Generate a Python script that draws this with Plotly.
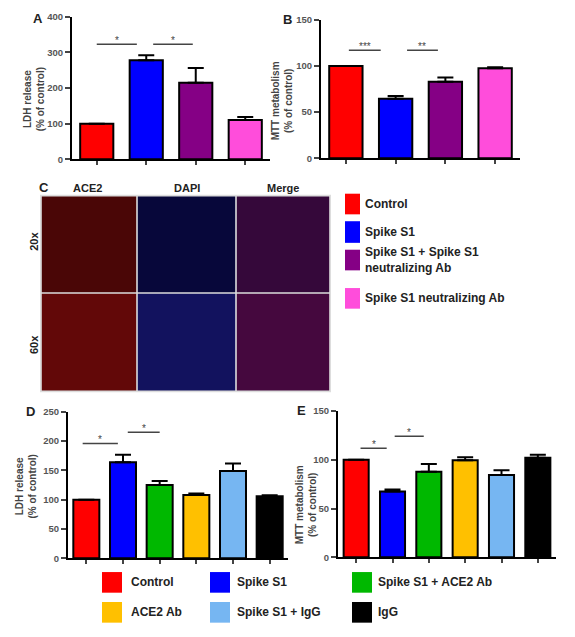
import plotly.graph_objects as go

W, H = 575, 637
def px(x): return x / W
def py(y): return 1 - y / H

# ---------------- data ----------------
ab_groups = ["Control", "Spike S1", "Spike S1 + Spike S1<br>neutralizing Ab", "Spike S1 neutralizing Ab"]
ab_colors = ["#ff0000", "#0000ff", "#850085", "#ff4ddb"]
a_ldh = [100, 278, 215, 110]
a_ldh_err = [0, 14, 41, 9]
b_mtt = [100, 64.6, 83, 97.5]
b_mtt_err = [0, 3, 4.5, 1.2]

de_groups = ["Control", "Spike S1", "Spike S1 + ACE2 Ab", "ACE2 Ab", "Spike S1 + IgG", "IgG"]
de_colors = ["#ff0000", "#0000ff", "#00b800", "#ffc000", "#76b6f2", "#000000"]
d_ldh = [100, 164, 125, 108, 149, 106]
d_ldh_err = [0, 13, 7, 2.5, 13, 1.5]
e_mtt = [100, 67.4, 87.6, 99.5, 84.3, 102]
e_mtt_err = [0, 2, 8, 3, 5, 3]

# significance brackets: (panel, x0, x1, y, label)
sig = [
    ("A", 0.0, 0.81, 323, "*"), ("A", 1.14, 1.94, 323, "*"),
    ("B", 0.06, 0.70, 117, "***"), ("B", 1.23, 1.85, 117, "**"),
    ("D", -0.1, 0.86, 196, "*"), ("D", 1.13, 2.0, 215, "*"),
    ("E", 0.12, 0.84, 111.7, "*"), ("E", 1.06, 1.86, 124, "*"),
]

FONT = "Liberation Sans, Arial, sans-serif"
fig = go.Figure()

panels = {
    "A": ("x", "y", 72, 270, 11, 156, 400, 100, a_ldh, a_ldh_err, ab_colors, 0.67),
    "B": ("x2", "y2", 321, 520, 14, 155, 150, 50, b_mtt, b_mtt_err, ab_colors, 0.67),
    "D": ("x3", "y3", 68, 288, 413, 562, 250, 50, d_ldh, d_ldh_err, de_colors, 0.71),
    "E": ("x4", "y4", 338, 556, 412, 561, 150, 50, e_mtt, e_mtt_err, de_colors, 0.69),
}

layout_axes = {}
for i, (name, p) in enumerate(panels.items()):
    xa, ya, x0, x1, yt, yb, ymax, dt, vals, errs, cols, bw = p
    n = len(vals)
    fig.add_trace(go.Bar(
        x=list(range(n)), y=vals, xaxis=xa, yaxis=ya, width=bw,
        marker=dict(color=cols, line=dict(color="black", width=2)),
        error_y=dict(type="data", array=errs, arrayminus=[0] * n, symmetric=False,
                     color="black", thickness=2, width=8),
        showlegend=False, hoverinfo="skip"))
    suffix = "" if i == 0 else str(i + 1)
    layout_axes["xaxis" + suffix] = dict(
        domain=[px(x0), px(x1)], range=[-0.5, n - 0.5], anchor=ya,
        showgrid=False, zeroline=False, showline=True, linecolor="black", linewidth=2,
        ticks="outside", tickvals=list(range(n)), ticktext=[""] * n,
        ticklen=4, tickwidth=1.5, tickcolor="#444", fixedrange=True)
    layout_axes["yaxis" + suffix] = dict(
        domain=[py(yb), py(yt)], range=[0, ymax], anchor=xa,
        showgrid=False, zeroline=False, showline=True, linecolor="black", linewidth=2,
        ticks="outside", dtick=dt, ticklen=5, tickwidth=1.5, tickcolor="#444",
        tickfont=dict(family=FONT, size=9.5, color="#555", weight="bold"), fixedrange=True)

fig.update_layout(**layout_axes)

axmap = {"A": ("x", "y"), "B": ("x2", "y2"), "D": ("x3", "y3"), "E": ("x4", "y4")}
shapes = []
annotations = []

def note(x, y, text, size, color="#222", xanchor="center", angle=0, xref="paper", yref="paper",
         yanchor="middle", yshift=0, align="center"):
    annotations.append(dict(xref=xref, yref=yref, x=x, y=y, text=text, showarrow=False,
                            xanchor=xanchor, yanchor=yanchor, textangle=angle, yshift=yshift,
                            align=align, font=dict(family=FONT, size=size, color=color)))

for name, x0, x1, yv, lab in sig:
    xr, yr = axmap[name]
    shapes.append(dict(type="line", xref=xr, yref=yr, x0=x0, x1=x1, y0=yv, y1=yv,
                       line=dict(color="#444", width=1.5)))
    note((x0 + x1) / 2, yv, lab, 10, "#444", xref=xr, yref=yr, yanchor="bottom", yshift=-4)

# panel letters
for lab, x, y in [("A", 38, 13), ("B", 287, 14), ("C", 44, 185), ("D", 30, 413), ("E", 301, 412)]:
    note(px(x), py(y), "<b>%s</b>" % lab, 13)

# axis titles
for txt, x, y in [("LDH release<br>(% of control)", 34, 95),
                  ("MTT metabolism<br>(% of control)", 282, 97),
                  ("LDH release<br>(% of control)", 26, 489),
                  ("MTT metabolism<br>(% of control)", 306, 508)]:
    note(px(x), py(y), "<b>%s</b>" % txt, 10, "#444", angle=-90)

# panel C: microscopy tiles (placeholders)
cols_px = [(41, 137), (137, 236), (236, 330)]
rows_px = [(193, 292), (292, 392)]
tile_fill = [["#4a0606", "#07073a", "#35083a"],
             ["#620808", "#12125e", "#45083e"]]
shapes.append(dict(type="rect", xref="paper", yref="paper", x0=px(40), x1=px(331),
                   y0=py(393), y1=py(192), fillcolor="#dddddd", line=dict(width=0)))
for r, (ry0, ry1) in enumerate(rows_px):
    for c, (cx0, cx1) in enumerate(cols_px):
        shapes.append(dict(type="rect", xref="paper", yref="paper",
                           x0=px(cx0 + 0.8), x1=px(cx1 - 0.8), y0=py(ry1 - 0.8), y1=py(ry0 + 0.8),
                           fillcolor=tile_fill[r][c], line=dict(width=0)))
for txt, x in [("ACE2", 87), ("DAPI", 187), ("Merge", 283)]:
    note(px(x), py(185), "<b>%s</b>" % txt, 11)
for txt, y in [("20x", 240), ("60x", 345)]:
    note(px(34), py(y), "<b>%s</b>" % txt, 11, angle=-90)

# legend for A/B
top_leg_y = [(191, 212), (219, 241), (248, 269), (287, 308)]
for (y0, y1), col, lab in zip(top_leg_y, ab_colors, ab_groups):
    shapes.append(dict(type="rect", xref="paper", yref="paper", x0=px(345), x1=px(360),
                       y0=py(y1), y1=py(y0), fillcolor=col, line=dict(width=0)))
    note(px(363), py((y0 + y1) / 2), "<b>%s</b>" % lab, 12, xanchor="left", align="left")

# legend for D/E
bot_pos = [(102, 129, 586.5), (210, 235, 586.5), (352, 376, 586.5),
           (102, 129, 617), (210, 235, 617), (352, 376, 617)]
for k, (sx, tx, cy) in enumerate(bot_pos):
    shapes.append(dict(type="rect", xref="paper", yref="paper", x0=px(sx), x1=px(sx + 20),
                       y0=py(cy + 10.5), y1=py(cy - 10.5), fillcolor=de_colors[k], line=dict(width=0)))
    note(px(tx), py(cy), "<b>%s</b>" % de_groups[k], 12, xanchor="left")

fig.update_layout(width=W, height=H, margin=dict(l=0, r=0, t=0, b=0),
                  paper_bgcolor="white", plot_bgcolor="white",
                  shapes=shapes, annotations=annotations, showlegend=False)

fig.write_html("out.html", config={"displayModeBar": False},
               post_script="document.body.style.margin='0';")
